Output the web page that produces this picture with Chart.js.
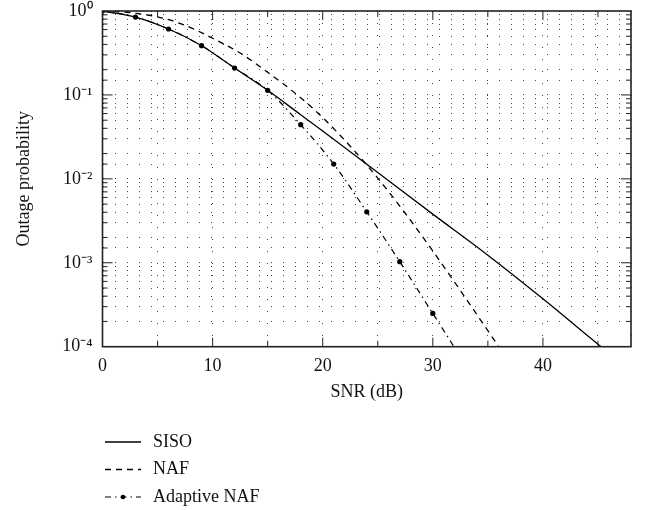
<!DOCTYPE html>
<html><head><meta charset="utf-8">
<script src="https://cdn.jsdelivr.net/npm/chart.js@4.4.0/dist/chart.umd.min.js"></script>
<style>html,body{margin:0;padding:0;background:#fff}#wrap{width:645px;height:510px}</style>
</head><body><div id="wrap"><canvas id="c" width="645" height="510"></canvas></div>
<script>
// ---- data ----
const seriesNames = ['SISO', 'NAF', 'Adaptive NAF'];

const sisoSNR = [0, 3, 6, 9, 12, 15, 18, 20, 25, 30, 35, 40, 45, 47];
const sisoP   = [1.0, 0.847, 0.61, 0.386, 0.209, 0.1135, 0.0581, 0.0372, 0.0119, 0.0038, 0.00123, 0.000372, 0.000107, 0.000066];

const nafSNR = [0, 2.5, 5, 7.5, 10, 12.5, 15, 17.5, 20, 22.5, 25, 27.5, 30, 32.5, 35, 37.5];
const nafP   = [1.0, 0.955, 0.851, 0.676, 0.473, 0.316, 0.186, 0.105, 0.0537, 0.0245, 0.0102, 0.00389, 0.00138, 0.000468, 0.000155, 0.0000513];

const adaptSNR = [0, 3, 6, 9, 12, 15, 18, 21, 24, 27, 30, 33];
const adaptP   = [1.0, 0.847, 0.61, 0.386, 0.209, 0.1135, 0.0442, 0.0150, 0.00405, 0.00103, 0.000249, 0.00006];
const adaptMarked = [1, 1, 1, 1, 1, 1, 1, 1, 1, 1, 1, 0];

const xTickLabels = ['0', '10', '20', '30', '40'];
const yTickValues = [1, 0.1, 0.01, 0.001, 0.0001];
const yTickLabels = ['10\u2070', '10\u207B\u00B9', '10\u207B\u00B2', '10\u207B\u00B3', '10\u207B\u2074'];

const xTitle = 'SNR (dB)';
const yTitle = 'Outage probability';

// ---- build ----
const pts = (xs, ys) => xs.map((x, i) => ({x: x, y: ys[i]}));
const FONT = 'Liberation Serif';

const framePlugin = {
  id: 'frame',
  afterDraw(chart) {
    const {ctx, chartArea: a, scales} = chart;
    const x = scales.x, y = scales.y;
    ctx.save();
    ctx.setLineDash([]);
    ctx.strokeStyle = '#222';
    ctx.lineWidth = 1;
    ctx.beginPath();
    x.ticks.forEach(t => {
      const px = x.getPixelForValue(t.value);
      if (px <= a.left + 1 || px >= a.right - 1) return;
      const len = (t.value % 10 === 0) ? 9 : 6;
      ctx.moveTo(px, a.bottom); ctx.lineTo(px, a.bottom - len);
      ctx.moveTo(px, a.top); ctx.lineTo(px, a.top + len);
    });
    y.ticks.forEach(t => {
      const py = y.getPixelForValue(t.value);
      if (py <= a.top + 1 || py >= a.bottom - 1) return;
      const l = Math.log10(t.value);
      const major = Math.abs(l - Math.round(l)) < 1e-6;
      const len = major ? 10 : 5;
      ctx.moveTo(a.left, py); ctx.lineTo(a.left + len, py);
      ctx.moveTo(a.right, py); ctx.lineTo(a.right - len, py);
    });
    ctx.stroke();
    ctx.lineWidth = 1.6;
    ctx.strokeRect(a.left, a.top, a.right - a.left, a.bottom - a.top);

    // legend (vertical list below the axis)
    const ds = chart.data.datasets;
    ctx.font = '18px "' + FONT + '"';
    ctx.textBaseline = 'middle';
    ctx.textAlign = 'left';
    ds.forEach((d, i) => {
      const yy = 442 + i * 27.5;
      ctx.save();
      ctx.strokeStyle = d.borderColor;
      ctx.lineWidth = d.borderWidth;
      ctx.setLineDash(d.borderDash || []);
      ctx.beginPath(); ctx.moveTo(105, yy); ctx.lineTo(141, yy); ctx.stroke();
      ctx.setLineDash([]);
      if (d.legendMarker) {
        ctx.fillStyle = '#000';
        ctx.beginPath(); ctx.arc(123, yy, 2.3, 0, Math.PI * 2); ctx.fill();
      }
      ctx.fillStyle = '#111';
      ctx.fillText(d.label, 153, yy);
      ctx.restore();
    });
    ctx.restore();
  }
};

new Chart(document.getElementById('c'), {
  type: 'line',
  data: {
    datasets: [
      {label: seriesNames[0], data: pts(sisoSNR, sisoP), borderColor: '#000', borderWidth: 1.3,
       pointRadius: 0, cubicInterpolationMode: 'monotone', clip: 0, borderDash: []},
      {label: seriesNames[1], data: pts(nafSNR, nafP), borderColor: '#000', borderWidth: 1.3,
       pointRadius: 0, cubicInterpolationMode: 'monotone', clip: 0, borderDash: [6, 5]},
      {label: seriesNames[2], data: pts(adaptSNR, adaptP), borderColor: '#000', borderWidth: 1.2,
       pointRadius: adaptMarked.map(m => m ? 2.6 : 0), pointBackgroundColor: '#000', pointBorderWidth: 0,
       cubicInterpolationMode: 'monotone', clip: 0, borderDash: [6, 4, 1.5, 4], legendMarker: true}
    ]
  },
  options: {
    responsive: false,
    animation: false,
    devicePixelRatio: 1,
    layout: {padding: {left: 0, top: 11, right: 14, bottom: 103.3}},
    plugins: {legend: {display: false}, tooltip: {enabled: false}},
    scales: {
      x: {
        type: 'linear', min: 0, max: 48,
        afterFit: s => { s.height = 60; s.paddingLeft = 0; s.paddingRight = 0; },
        grid: {color: '#444', lineWidth: 1, drawTicks: false},
        border: {display: false, dash: [1, 11]},
        ticks: {stepSize: 5, autoSkip: false, maxRotation: 0, padding: 9, color: '#111',
                font: {family: FONT, size: 18},
                callback: v => xTickLabels.includes(String(v)) ? String(v) : ''},
        title: {display: true, text: xTitle, color: '#111', font: {family: FONT, size: 18}, padding: 4}
      },
      y: {
        type: 'logarithmic', min: 0.0001, max: 1,
        afterFit: s => { s.width = 102.5; s.paddingTop = 0; s.paddingBottom = 0; },
        grid: {color: '#444', lineWidth: 1, drawTicks: false},
        border: {display: false, dash: [1, 11]},
        ticks: {autoSkip: false, padding: 10, color: '#111',
                font: {family: FONT, size: 18},
                callback: v => {
                  const i = yTickValues.findIndex(t => Math.abs(t - v) / t < 1e-6);
                  return i >= 0 ? yTickLabels[i] : '';
                }},
        title: {display: true, text: yTitle, color: '#111', font: {family: FONT, size: 18}, padding: 13}
      }
    }
  },
  plugins: [framePlugin]
});
</script>
</body></html>
